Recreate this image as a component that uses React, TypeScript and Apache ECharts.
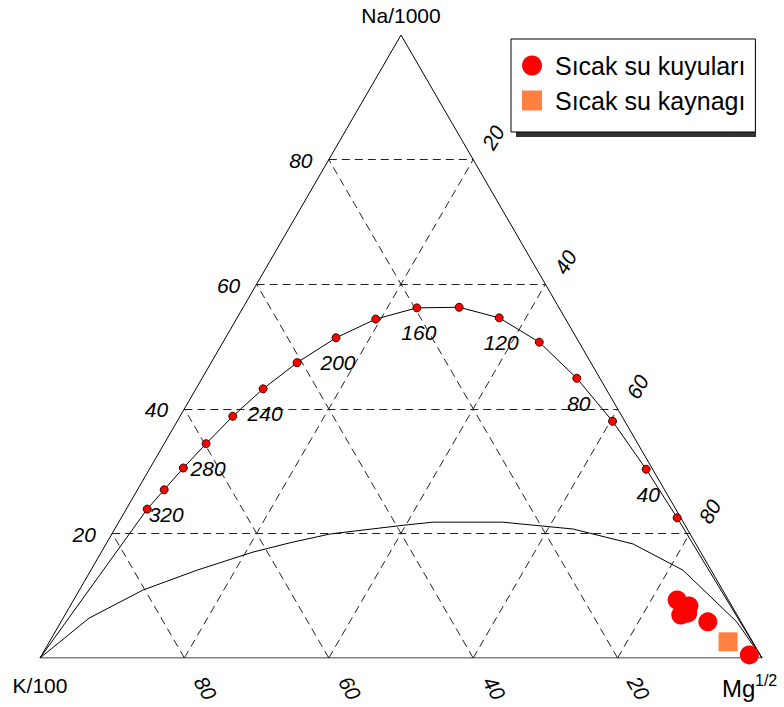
import React, { useEffect, useRef } from "react";
import * as echarts from "echarts";

const S3 = Math.sqrt(3) / 2;
const FONT = "'Liberation Sans', Arial, sans-serif";

// Ternary compositions in percent: Na/1000, Mg^1/2 (K/100 = 100 - Na - Mg)
// Full equilibrium line, temperatures in °C
const eqTemps = [340, 320, 300, 280, 260, 240, 220, 200, 180, 160, 140, 120, 100, 80, 60, 40, 20];
const eqNa = [23.9, 27.0, 30.5, 34.4, 38.8, 43.2, 47.4, 51.4, 54.4, 56.2, 56.3, 54.6, 50.7, 44.9, 38.0, 30.3, 22.5];
const eqMg = [2.9, 3.7, 4.6, 5.8, 7.3, 9.3, 11.9, 15.3, 19.3, 24.1, 29.9, 36.3, 43.8, 51.9, 60.3, 68.8, 77.0];
const eqLabelTemps = [320, 280, 240, 200, 160, 120, 80, 40];

// Lower boundary curve (immature waters)
const lowNa = [0, 6.4, 10.9, 14.1, 17.0, 18.5, 19.9, 21.3, 21.8, 21.8, 20.7, 18.3, 14.1, 5.8, 0];
const lowMg = [0, 3.6, 8.8, 14.7, 21.0, 25.4, 30.2, 39.6, 43.5, 53.2, 63.5, 73.0, 82.0, 93.6, 100];

// Samples
const wellNames = "Sıcak su kuyuları";
const wellNa = [9.3, 8.35, 7.2, 6.9, 5.8, 0.5];
const wellMg = [83.6, 85.7, 86.1, 85.3, 89.6, 98.0];
const springName = "Sıcak su kaynagı";
const springNa = [2.6];
const springMg = [94.0];

const ticks = [20, 40, 60, 80];

const toXY = (na: number, mg: number) => [mg + na / 2, na * S3];

export default function App() {
  const ref = useRef<HTMLDivElement>(null);
  useEffect(() => {
    if (!ref.current) return;
    const chart = echarts.init(ref.current, undefined, { renderer: "svg" });

    const gridLines: any[] = [];
    ticks.forEach((v) => {
      gridLines.push({ coords: [toXY(v, 0), toXY(v, 100 - v)] });
      gridLines.push({ coords: [toXY(0, 100 - v), toXY(100 - v, 0)] });
      gridLines.push({ coords: [toXY(0, v), toXY(100 - v, v)] });
    });

    const eqLine = [toXY(0, 0), ...eqNa.map((n, i) => toXY(n, eqMg[i])), toXY(0, 100)];
    const eqDots = eqNa.map((n, i) => ({
      value: toXY(n, eqMg[i]),
      label: { show: eqLabelTemps.includes(eqTemps[i]), formatter: String(eqTemps[i]) },
    }));

    chart.setOption({
      animation: false,
      textStyle: { fontFamily: FONT },
      grid: { left: 40, right: 22, top: 35, bottom: 49 },
      xAxis: { type: "value", min: 0, max: 100, show: false },
      yAxis: { type: "value", min: 0, max: 100 * S3, show: false },
      legend: {
        orient: "vertical",
        left: 511,
        top: 39,
        padding: [14, 10, 19, 11],
        itemGap: 10,
        itemWidth: 20,
        itemHeight: 20,
        backgroundColor: "#fff",
        borderColor: "#000",
        borderWidth: 1,
        borderRadius: 0,
        z: 5,
        textStyle: { fontSize: 25, fontFamily: FONT, color: "#000", padding: [0, 0, 0, 8] },
        data: [
          { name: wellNames, icon: "circle" },
          { name: springName, icon: "rect" },
        ],
      },
      series: [
        {
          type: "lines",
          coordinateSystem: "cartesian2d",
          silent: true,
          z: 1,
          lineStyle: { color: "#222", width: 1, type: [8, 5], opacity: 1 },
          data: gridLines,
        },
        {
          type: "line",
          silent: true,
          z: 2,
          symbol: "none",
          lineStyle: { color: "#000", width: 1 },
          data: [toXY(0, 0), toXY(0, 100), toXY(100, 0), toXY(0, 0)],
        },
        {
          type: "line",
          silent: true,
          z: 2,
          symbol: "none",
          lineStyle: { color: "#000", width: 1 },
          data: lowNa.map((n, i) => toXY(n, lowMg[i])),
        },
        {
          type: "line",
          silent: true,
          z: 2,
          symbol: "none",
          lineStyle: { color: "#000", width: 1 },
          data: eqLine,
        },
        {
          type: "scatter",
          silent: true,
          z: 3,
          symbolSize: 8,
          itemStyle: { color: "#ff0000", borderColor: "#400000", borderWidth: 1, opacity: 1 },
          label: {
            position: "bottom",
            distance: 10,
            offset: [2, 0],
            fontSize: 21,
            fontStyle: "italic",
            fontFamily: FONT,
            color: "#000",
            opacity: 1,
          },
          data: eqDots,
        },
        {
          name: springName,
          type: "scatter",
          z: 4,
          symbol: "rect",
          symbolSize: 19,
          itemStyle: { color: "#ff8040", opacity: 1 },
          data: springNa.map((n, i) => toXY(n, springMg[i])),
        },
        {
          name: wellNames,
          type: "scatter",
          z: 4,
          symbol: "circle",
          symbolSize: 19,
          itemStyle: { color: "#ff0000", opacity: 1 },
          data: wellNa.map((n, i) => toXY(n, wellMg[i])),
        },
      ],
    });

    const px = (na: number, mg: number) =>
      chart.convertToPixel({ gridIndex: 0 }, toXY(na, mg)) as number[];
    const txt = (x: number, y: number, text: string, fontSize: number, opts: any = {}) => ({
      type: "text",
      x,
      y,
      rotation: opts.rotation || 0,
      z: 10,
      style: {
        text,
        fontSize,
        fontFamily: FONT,
        fontStyle: opts.italic ? "italic" : "normal",
        fill: "#000",
        align: opts.align || "center",
        textAlign: opts.align || "center",
        verticalAlign: "middle",
        textVerticalAlign: "middle",
      },
    });

    const graphics: any[] = [];
    ticks.forEach((v) => {
      const l = px(v, 0);
      graphics.push(txt(l[0] - 28, l[1] + 1, String(v), 21, { italic: true }));
      const r = px(100 - v, v);
      graphics.push(txt(r[0] + 20, r[1] - 22, String(v), 21, { italic: true, rotation: Math.PI / 3 }));
      const b = px(0, 100 - v);
      graphics.push(txt(b[0] + 21, b[1] + 30, String(v), 21, { italic: true, rotation: -Math.PI / 3 }));
    });
    const top = px(100, 0);
    const kv = px(0, 0);
    const mv = px(0, 100);
    graphics.push(txt(top[0], top[1] - 20, "Na/1000", 21));
    graphics.push(txt(kv[0], kv[1] + 27, "K/100", 21));
    graphics.push(txt(mv[0] - 40, mv[1] + 30, "Mg", 24, { align: "left" }));
    graphics.push(txt(mv[0] - 7, mv[1] + 22, "1/2", 16, { align: "left" }));
    graphics.push({
      type: "rect",
      z: 1,
      shape: { x: 516, y: 44, width: 240, height: 93 },
      style: { fill: "#333" },
    });

    chart.setOption({ graphic: graphics });

    return () => chart.dispose();
  }, []);

  return (
    <div
      ref={ref}
      style={{ position: "fixed", left: 0, top: 0, width: 784, height: 707, background: "#fff" }}
    />
  );
}
